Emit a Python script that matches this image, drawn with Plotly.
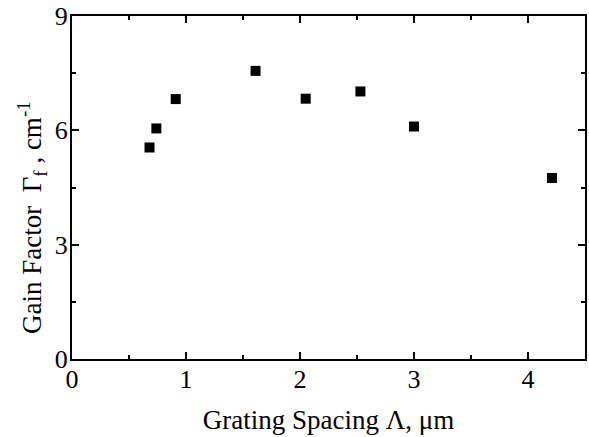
import plotly.graph_objects as go

spacing_um = [0.68, 0.74, 0.91, 1.61, 2.05, 2.53, 3.00, 4.21]
gain_factor = [5.55, 6.05, 6.82, 7.56, 6.83, 7.02, 6.10, 4.75]

x_ticks = [0, 1, 2, 3, 4]
y_ticks = [0, 3, 6, 9]

font_family = "Liberation Serif, Times New Roman, serif"

fig = go.Figure(go.Scatter(
    x=spacing_um, y=gain_factor, mode="markers",
    marker=dict(symbol="square", size=10, color="black", line=dict(width=0)),
))

axis_common = dict(
    showline=True, linecolor="black", linewidth=2, mirror="ticks",
    ticks="inside", ticklen=7, tickwidth=2, tickcolor="black",
    showgrid=False, zeroline=False,
    tickfont=dict(family=font_family, size=26, color="black"),
)

fig.update_xaxes(
    range=[0, 4.5], tickvals=x_ticks, ticktext=[str(v) for v in x_ticks],
    minor=dict(ticks="inside", dtick=0.5, ticklen=4, tickwidth=2, tickcolor="black"),
    ticklabelstandoff=-4,
    title=dict(text="Grating Spacing Λ, μm", font=dict(family=font_family, size=27, color="black"), standoff=17),
    **axis_common,
)
fig.update_yaxes(
    range=[0, 9], tickvals=y_ticks, ticktext=[str(v) for v in y_ticks],
    minor=dict(ticks="inside", dtick=1.5, ticklen=4, tickwidth=2, tickcolor="black"),
    ticklabelstandoff=-3,
    **axis_common,
)

fig.add_annotation(
    text="Gain Factor  Γ<sub>f</sub> , cm<sup>-1</sup>",
    xref="paper", yref="paper", x=-0.078, y=0.414,
    xanchor="center", yanchor="middle", textangle=-90, showarrow=False,
    font=dict(family=font_family, size=27, color="black"),
)

fig.update_layout(
    width=589, height=437,
    margin=dict(l=72, r=2, t=16, b=78),
    plot_bgcolor="white", paper_bgcolor="white",
    showlegend=False,
)

fig.write_html("out.html")
